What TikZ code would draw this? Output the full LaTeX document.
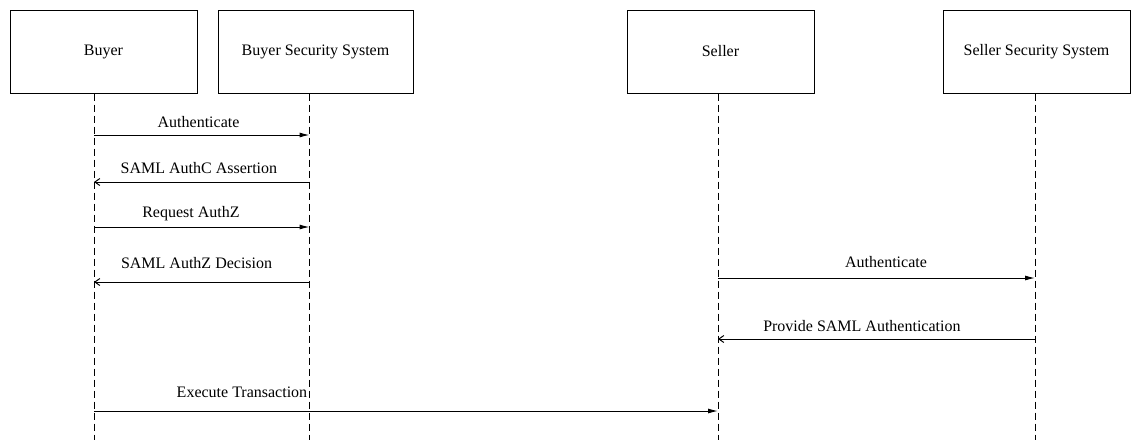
\documentclass[tikz,border=0pt]{standalone}
\usepackage{fontspec}
\setmainfont{Liberation Serif}
\usetikzlibrary{arrows.meta}

\begin{document}
\begin{tikzpicture}[x=1pt, y=-1pt, font=\fontsize{16}{19}\selectfont,
	actor/.style={draw, line width=1pt, minimum width=187pt, minimum height=83pt, inner sep=0pt},
	lifeline/.style={line width=1pt, dash pattern=on 7pt off 4pt},
	call/.style={-{Latex[length=10pt, width=5pt]}, line width=1pt},
	reply/.style={-{Straight Barb[length=5pt, width=7pt]}, line width=1pt},
	lbl/.style={inner sep=0pt, text depth=0pt, anchor=south}]

	\useasboundingbox (0,0) rectangle (1136,440);

	% participants
	\node[actor] (buyer) at (103.5,51.5) {Buyer};
	\node[actor, minimum width=195pt] (bss) at (315.5,51.5) {Buyer Security System};
	\node[actor] (seller) at (720.5,51.5) {Seller};
	\node[actor] (sss) at (1036.5,51.5) {Seller Security System};

	\coordinate (buyer-end) at (94,440);
	\coordinate (bss-end) at (309.5,440);
	\coordinate (seller-end) at (718,440);
	\coordinate (sss-end) at (1035,440);

	\draw[lifeline] (buyer-end |- buyer.south) -- (buyer-end);
	\draw[lifeline] (bss-end |- bss.south) -- (bss-end);
	\draw[lifeline] (seller-end |- seller.south) -- (seller-end);
	\draw[lifeline] (sss-end |- sss.south) -- (sss-end);

	% message rows
	\coordinate (m1) at (0,135);
	\coordinate (m2) at (0,182);
	\coordinate (m3) at (0,227);
	\coordinate (m4) at (0,282);
	\coordinate (m5) at (0,278);
	\coordinate (m6) at (0,339);
	\coordinate (m7) at (0,411);

	\draw[call] (buyer-end |- m1) -- (bss-end |- m1) node[lbl, pos=0.485, yshift=7pt] {Authenticate};
	\draw[reply] (bss-end |- m2) -- (buyer-end |- m2) node[lbl, pos=0.513, yshift=8pt] {SAML AuthC Assertion};
	\draw[call] (buyer-end |- m3) -- (bss-end |- m3) node[lbl, pos=0.45, yshift=9pt] {Request AuthZ};
	\draw[reply] (bss-end |- m4) -- (buyer-end |- m4) node[lbl, pos=0.524, yshift=13pt] {SAML AuthZ Decision};
	\draw[call] (seller-end |- m5) -- (sss-end |- m5) node[lbl, pos=0.53, yshift=10pt] {Authenticate};
	\draw[reply] (sss-end |- m6) -- (seller-end |- m6) node[lbl, pos=0.546, yshift=7pt] {Provide SAML Authentication};
	\draw[call] (buyer-end |- m7) -- (seller-end |- m7) node[lbl, pos=0.3425, anchor=south east, yshift=13pt] {Execute Transaction};
\end{tikzpicture}
\end{document}
